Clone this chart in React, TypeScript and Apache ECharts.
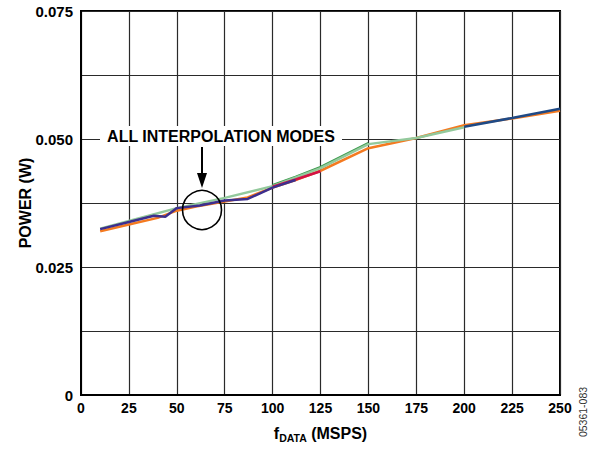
import React, { useEffect, useRef } from "react";
import * as echarts from "echarts";

const xTicks = [0, 25, 50, 75, 100, 125, 150, 175, 200, 225, 250];

const xOrange = [10, 25, 40, 50, 60, 75, 87, 100, 112, 125, 150, 175, 200, 225, 250];
const yOrange = [0.032, 0.0333, 0.0346, 0.036, 0.0368, 0.0378, 0.0386, 0.0405, 0.042, 0.0438, 0.0482, 0.0502, 0.0527, 0.054, 0.0555];

const xLightGreen = [10, 25, 50, 75, 100, 125, 150, 175, 200];
const yLightGreen = [0.0325, 0.034, 0.0365, 0.0385, 0.0408, 0.0443, 0.049, 0.0502, 0.0523];

const xGreen = [100, 112, 125, 150];
const yGreen = [0.041, 0.0426, 0.0445, 0.0492];

const xRed = [100, 112, 125];
const yRed = [0.0407, 0.0421, 0.0437];

const xPurple = [10, 25, 38, 44, 50, 62, 75, 87, 100, 112];
const yPurple = [0.0324, 0.0338, 0.035, 0.0348, 0.0365, 0.037, 0.038, 0.0383, 0.0405, 0.042];

const xNavy = [200, 225, 250];
const yNavy = [0.0524, 0.0541, 0.0559];

const FONT = "'Liberation Sans', Arial, Helvetica, sans-serif";

function pairs(xs: number[], ys: number[]) {
  return xs.map((x, i) => [x, ys[i]]);
}

function line(name: string, xs: number[], ys: number[], color: string, z: number) {
  return {
    name,
    type: "line",
    data: pairs(xs, ys),
    showSymbol: false,
    symbol: "none",
    lineStyle: { color, width: 2.5 },
    z,
  };
}

export default function App() {
  const ref = useRef<HTMLDivElement>(null);
  useEffect(() => {
    if (!ref.current) return;
    const chart = echarts.init(ref.current, null, { renderer: "svg" });
    chart.setOption({
      animation: false,
      backgroundColor: "#ffffff",
      grid: {
        left: 81,
        top: 11,
        right: 32,
        bottom: 59,
        show: true,
        borderColor: "#000",
        borderWidth: 2,
        backgroundColor: "transparent",
      },
      xAxis: {
        type: "value",
        min: 0,
        max: 250,
        interval: 25,
        axisLine: { show: true, lineStyle: { color: "#000", width: 2 } },
        axisTick: { show: false },
        splitLine: { show: true, lineStyle: { color: "#2a2a2a", width: 1.2 } },
        axisLabel: {
          color: "#000",
          fontFamily: FONT,
          fontWeight: "bold",
          fontSize: 14,
          margin: 6,
          formatter: (v: number) => (xTicks.includes(v) ? String(v) : ""),
        },
        name: "{f|f}{sub|DATA}{f| (MSPS)}",
        nameLocation: "middle",
        nameGap: 28,
        nameMoveOverlap: false,
        nameTextStyle: {
          rich: {
            f: { fontFamily: FONT, fontWeight: "bold", fontSize: 16, color: "#000" },
            sub: { fontFamily: FONT, fontWeight: "bold", fontSize: 10.5, color: "#000", verticalAlign: "bottom", padding: [9, 0, 0, 0] },
          },
        },
      },
      yAxis: {
        type: "value",
        min: 0,
        max: 0.075,
        interval: 0.0125,
        axisLine: { show: true, lineStyle: { color: "#000", width: 2 } },
        axisTick: { show: false },
        splitLine: { show: true, lineStyle: { color: "#2a2a2a", width: 1.2 } },
        axisLabel: {
          color: "#000",
          fontFamily: FONT,
          fontWeight: "bold",
          fontSize: 15,
          margin: 8,
          formatter: (v: number) => {
            const k = Math.round(v / 0.0125);
            if (k % 2 !== 0) return "";
            if (k === 0) return "0";
            return v.toFixed(3);
          },
        },
        name: "POWER (W)",
        nameLocation: "middle",
        nameGap: 48,
        nameMoveOverlap: false,
        nameTextStyle: { fontFamily: FONT, fontWeight: "bold", fontSize: 16, color: "#000" },
      },
      series: [
        line("orange", xOrange, yOrange, "#f47a20", 3),
        line("green", xGreen, yGreen, "#3a9a4c", 4),
        line("lightgreen", xLightGreen, yLightGreen, "#93c99c", 5),
        line("red", xRed, yRed, "#d31245", 6),
        line("purple", xPurple, yPurple, "#3d2f8e", 7),
        line("navy", xNavy, yNavy, "#1f4a86", 7),
      ],
      graphic: [
        { type: "rect", shape: { x: 100, y: 126, width: 242, height: 20 }, style: { fill: "#fff" }, z: 10 },
        {
          type: "text",
          x: 221,
          y: 136,
          style: {
            text: "ALL INTERPOLATION MODES",
            fontFamily: FONT,
            fontWeight: "bold",
            fontSize: 16,
            fill: "#000",
            textAlign: "center",
            textVerticalAlign: "middle",
          },
          z: 11,
        },
        { type: "line", shape: { x1: 202, y1: 147, x2: 202, y2: 176 }, style: { stroke: "#000", lineWidth: 2 }, z: 11 },
        { type: "polygon", shape: { points: [[197, 173], [207, 173], [202, 188]] }, style: { fill: "#000" }, z: 11 },
        { type: "circle", shape: { cx: 202, cy: 210, r: 19.5 }, style: { fill: "none", stroke: "#000", lineWidth: 1.6 }, z: 11 },
        {
          type: "text",
          x: 583,
          y: 412,
          rotation: Math.PI / 2,
          style: {
            text: "05361-083",
            fontFamily: FONT,
            fontSize: 10.5,
            fill: "#333",
            textAlign: "center",
            textVerticalAlign: "middle",
          },
          z: 11,
        },
      ],
    });
    return () => chart.dispose();
  }, []);
  return <div ref={ref} style={{ width: 592, height: 454, position: "absolute", left: 0, top: 0 }} />;
}
